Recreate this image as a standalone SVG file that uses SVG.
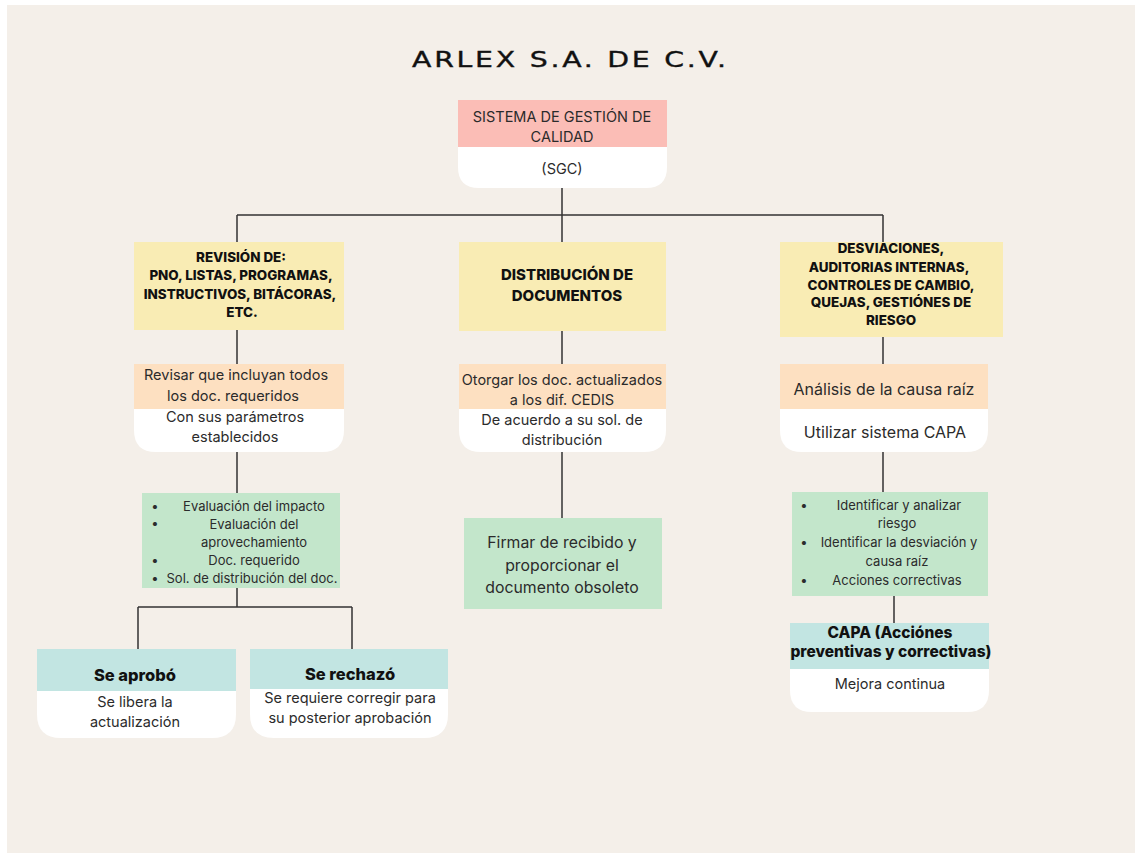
<svg xmlns="http://www.w3.org/2000/svg" width="1141" height="856" viewBox="0 0 1141 856">
<defs>
<style>
.t{font-family:Inter,"Noto Sans","Liberation Sans",sans-serif;fill:#2b2b2b;text-anchor:middle}
.n{font-size:14.5px}
.m{font-size:15px}
.s{font-size:13px}
.h{font-size:13.4px}
.b{font-weight:800;fill:#111}
.yel{fill:#f9ecb4}
.ora{fill:#fde0c1}
.grn{fill:#c3e6cb}
.tea{fill:#c2e5e2}
.pnk{fill:#fbbdb6}
.wht{fill:#ffffff}
.c{stroke:#333;stroke-width:1.5;fill:none}
</style>
</defs>
<rect x="0" y="0" width="1141" height="856" fill="#ffffff"/>
<rect x="7" y="5" width="1128" height="848" fill="#f4efe9"/>
<text transform="scale(1.35,1)" x="421.5" y="67" font-family="'DejaVu Sans',Lato,sans-serif" font-size="21" fill="#111" stroke="#111" stroke-width="0.35" text-anchor="middle" textLength="232.6" lengthAdjust="spacing">ARLEX S.A. DE C.V.</text>

<g id="connectors">
<path class="c" d="M562 188V215M237 215H883M237 215V243M562 215V243M883 215V243"/>
<path class="c" d="M237 330V364M562 331V364M883 337V364"/>
<path class="c" d="M237 452V493M237 588V607M138 607H352M138 607V649M352 607V649"/>
<path class="c" d="M562 452V518"/>
<path class="c" d="M883 452V492M894 596V623"/>
</g>

<g id="sgc">
<path class="wht" d="M458 147H667V167Q667 188 646 188H479Q458 188 458 167Z"/>
<rect class="pnk" x="458" y="100" width="209" height="47"/>
<text class="t n" x="562" y="122">SISTEMA DE GESTIÓN DE</text>
<text class="t n" x="562" y="142">CALIDAD</text>
<text class="t n" x="562" y="174">(SGC)</text>
</g>

<g id="revision">
<rect class="yel" x="134" y="242" width="210" height="88"/>
<text class="t h b" x="241" y="262">REVISIÓN DE:</text>
<text class="t h b" x="241" y="280">PNO, LISTAS, PROGRAMAS,</text>
<text class="t h b" x="240" y="299">INSTRUCTIVOS, BITÁCORAS,</text>
<text class="t h b" x="242" y="317">ETC.</text>
</g>

<g id="distribucion">
<rect class="yel" x="459" y="242" width="207" height="89"/>
<text class="t m b" x="567" y="280">DISTRIBUCIÓN DE</text>
<text class="t m b" x="567" y="301">DOCUMENTOS</text>
</g>

<g id="desviaciones">
<rect class="yel" x="780" y="242" width="223" height="95"/>
<text class="t h b" x="891" y="253">DESVIACIONES,</text>
<text class="t h b" x="889" y="272">AUDITORIAS INTERNAS,</text>
<text class="t h b" x="891" y="290">CONTROLES DE CAMBIO,</text>
<text class="t h b" x="891" y="307">QUEJAS, GESTIÓNES DE</text>
<text class="t h b" x="891" y="325">RIESGO</text>
</g>

<g id="revisar">
<path class="wht" d="M134 409H344V430Q344 452 322 452H156Q134 452 134 430Z"/>
<rect class="ora" x="134" y="364" width="210" height="45"/>
<text class="t n" x="236" y="380">Revisar que incluyan todos</text>
<text class="t n" x="233" y="401">los doc. requeridos</text>
<text class="t n" x="235" y="422">Con sus parámetros</text>
<text class="t n" x="235" y="442">establecidos</text>
</g>

<g id="otorgar">
<path class="wht" d="M459 409H666V430Q666 452 644 452H481Q459 452 459 430Z"/>
<rect class="ora" x="459" y="364" width="207" height="45"/>
<text class="t n" x="562" y="385">Otorgar los doc. actualizados</text>
<text class="t n" x="562" y="405">a los dif. CEDIS</text>
<text class="t n" x="562" y="425">De acuerdo a su sol. de</text>
<text class="t n" x="562" y="445">distribución</text>
</g>

<g id="analisis">
<path class="wht" d="M780 409H988V430Q988 452 966 452H802Q780 452 780 430Z"/>
<rect class="ora" x="780" y="364" width="208" height="45"/>
<text class="t" font-size="16" x="884" y="395">Análisis de la causa raíz</text>
<text class="t" font-size="16" x="885" y="438">Utilizar sistema CAPA</text>
</g>

<g id="evaluacion">
<rect class="grn" x="142" y="493" width="198" height="95"/>
<g class="t s">
<text x="155" y="511">•</text>
<text x="155" y="528">•</text>
<text x="155" y="565">•</text>
<text x="155" y="583">•</text>
<text x="254" y="511">Evaluación del impacto</text>
<text x="254" y="529">Evaluación del</text>
<text x="254" y="547">aprovechamiento</text>
<text x="254" y="565">Doc. requerido</text>
<text x="252" y="583">Sol. de distribución del doc.</text>
</g>
</g>

<g id="firmar">
<rect class="grn" x="464" y="518" width="198" height="91"/>
<text class="t" font-size="15.8" x="562" y="548">Firmar de recibido y</text>
<text class="t" font-size="15.8" x="562" y="571">proporcionar el</text>
<text class="t" font-size="15.8" x="562" y="593">documento obsoleto</text>
</g>

<g id="identificar">
<rect class="grn" x="792" y="492" width="196" height="104"/>
<g class="t s">
<text x="804" y="510">•</text>
<text x="804" y="547">•</text>
<text x="804" y="585">•</text>
<text x="899" y="510">Identificar y analizar</text>
<text x="897" y="528">riesgo</text>
<text x="899" y="547">Identificar la desviación y</text>
<text x="897" y="566">causa raíz</text>
<text x="897" y="585">Acciones correctivas</text>
</g>
</g>

<g id="capa">
<path class="wht" d="M790 669H989V690Q989 712 967 712H812Q790 712 790 690Z"/>
<rect class="tea" x="790" y="623" width="199" height="46"/>
<text class="t b" font-size="15.5" x="890" y="638">CAPA (Acciónes</text>
<text class="t b" font-size="15.5" x="891" y="657">preventivas y correctivas)</text>
<text class="t n" x="890" y="689">Mejora continua</text>
</g>

<g id="aprobo">
<path class="wht" d="M37 691H236V714Q236 738 212 738H61Q37 738 37 714Z"/>
<rect class="tea" x="37" y="649" width="199" height="42"/>
<text class="t b" font-size="16.5" x="135" y="681">Se aprobó</text>
<text class="t n" x="135" y="707">Se libera la</text>
<text class="t n" x="135" y="727">actualización</text>
</g>

<g id="rechazo">
<path class="wht" d="M250 689H448V714Q448 738 424 738H274Q250 738 250 714Z"/>
<rect class="tea" x="250" y="649" width="198" height="40"/>
<text class="t b" font-size="16.5" x="350" y="680">Se rechazó</text>
<text class="t n" x="350" y="703">Se requiere corregir para</text>
<text class="t n" x="350" y="723">su posterior aprobación</text>
</g>
</svg>
